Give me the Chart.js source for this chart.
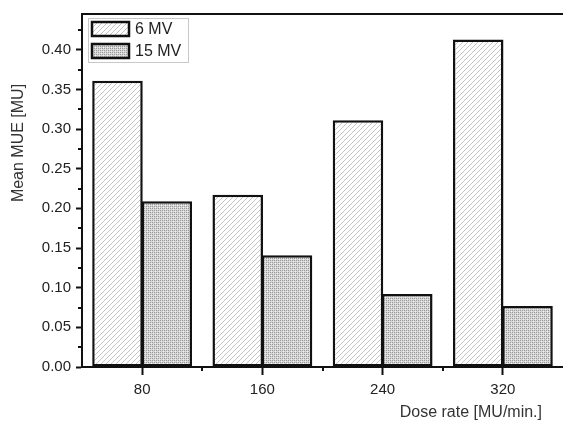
<!DOCTYPE html>
<html>
<head>
<meta charset="utf-8">
<script src="https://cdn.jsdelivr.net/npm/chart.js@4/dist/chart.umd.min.js"></script>
<style>
  html, body { margin: 0; padding: 0; background: #fff; }
  #wrap { width: 563px; height: 421px; }
</style>
</head>
<body>
<div id="wrap"><canvas id="chart" width="563" height="421"></canvas></div>
<script>
// data
const doseRates = ['80', '160', '240', '320'];
const seriesNames = ['6 MV', '15 MV'];
const mue6 = [0.361, 0.217, 0.311, 0.413];
const mue15 = [0.209, 0.141, 0.092, 0.077];
const yTicks = [0, 0.05, 0.10, 0.15, 0.20, 0.25, 0.30, 0.35, 0.40];

const FONT = 'Arial, "Liberation Sans", sans-serif';

// hatch fill for 6 MV
function makeHatch() {
    const c = document.createElement('canvas');
    c.width = 5; c.height = 5;
    const g = c.getContext('2d');
    g.fillStyle = '#fff';
    g.fillRect(0, 0, 5, 5);
    g.strokeStyle = '#bdbdbd';
    g.lineWidth = 0.9;
    g.beginPath();
    g.moveTo(-1, 6); g.lineTo(6, -1);
    g.moveTo(-1, 1); g.lineTo(1, -1);
    g.moveTo(4, 6); g.lineTo(6, 4);
    g.stroke();
    return g.createPattern(c, 'repeat');
}

// fine cross-hatch for 15 MV
function makeCross() {
    const c = document.createElement('canvas');
    c.width = 4; c.height = 4;
    const g = c.getContext('2d');
    g.fillStyle = '#d6d6d6';
    g.fillRect(0, 0, 4, 4);
    g.fillStyle = '#9a9a9a';
    [[0, 0], [2, 2], [0, 2], [2, 0]].forEach(p => g.fillRect(p[0], p[1], 1, 1));
    g.fillStyle = '#f2f2f2';
    [[1, 1], [3, 3]].forEach(p => g.fillRect(p[0], p[1], 1, 1));
    return g.createPattern(c, 'repeat');
}

const fills = [makeHatch(), makeCross()];

// frame, minor ticks, legend and axis titles
const extras = {
    id: 'extras',
    afterDraw(chart) {
        const ctx = chart.ctx;
        const a = chart.chartArea;
        const x = chart.scales.x, y = chart.scales.y;
        ctx.save();
        ctx.strokeStyle = '#111';
        ctx.lineWidth = 2;
        // top frame line
        ctx.beginPath();
        ctx.moveTo(a.left - 1, a.top);
        ctx.lineTo(a.right, a.top);
        ctx.stroke();
        // y minor ticks
        ctx.beginPath();
        for (let i = 0; i < yTicks.length; i++) {
            const v = yTicks[i] + 0.025;
            if (v > y.max) break;
            const py = Math.round(y.getPixelForValue(v));
            ctx.moveTo(a.left - 4, py);
            ctx.lineTo(a.left, py);
        }
        // x minor ticks between categories
        for (let i = 0; i < doseRates.length - 1; i++) {
            const px = Math.round((x.getPixelForValue(i) + x.getPixelForValue(i + 1)) / 2);
            ctx.moveTo(px, a.bottom);
            ctx.lineTo(px, a.bottom + 4);
        }
        ctx.stroke();

        // legend
        const lx = a.left + 6, ly = a.top + 4;
        ctx.lineWidth = 1;
        ctx.strokeStyle = '#c8c8c8';
        ctx.strokeRect(lx + 0.5, ly + 0.5, 100, 44);
        ctx.font = '16px ' + FONT;
        ctx.textBaseline = 'middle';
        ctx.textAlign = 'left';
        chart.data.datasets.forEach((ds, i) => {
            const by = ly + 4 + i * 22;
            ctx.fillStyle = ds.backgroundColor;
            ctx.fillRect(lx + 4, by, 37, 14);
            ctx.lineWidth = 2.5;
            ctx.strokeStyle = '#111';
            ctx.strokeRect(lx + 4, by, 37, 14);
            ctx.fillStyle = '#222';
            ctx.fillText(ds.label, lx + 47, by + 8);
        });

        // axis titles
        ctx.fillStyle = '#333';
        ctx.font = '16px ' + FONT;
        ctx.textAlign = 'right';
        ctx.textBaseline = 'middle';
        ctx.fillText('Dose rate [MU/min.]', 542, 413);
        ctx.translate(19, 143);
        ctx.rotate(-Math.PI / 2);
        ctx.textAlign = 'center';
        ctx.fillText('Mean MUE [MU]', 0, 0);
        ctx.restore();
    }
};

new Chart(document.getElementById('chart'), {
    type: 'bar',
    data: {
        labels: doseRates,
        datasets: [
            { label: seriesNames[0], data: mue6, backgroundColor: fills[0] },
            { label: seriesNames[1], data: mue15, backgroundColor: fills[1] }
        ]
    },
    options: {
        responsive: false,
        animation: false,
        devicePixelRatio: 1,
        layout: { padding: { top: 13, right: 0, left: 0, bottom: 0 } },
        datasets: {
            bar: {
                borderColor: '#111',
                borderWidth: 2.5,
                borderSkipped: false,
                barPercentage: 1.025,
                categoryPercentage: 0.82
            }
        },
        plugins: {
            legend: { display: false },
            tooltip: { enabled: false }
        },
        scales: {
            x: {
                offset: true,
                grid: {
                    offset: false,
                    drawOnChartArea: false,
                    tickLength: 8,
                    tickColor: '#111',
                    tickWidth: 2
                },
                border: { color: '#111', width: 2 },
                ticks: {
                    color: '#222',
                    padding: 6,
                    font: { family: FONT, size: 15 }
                },
                afterFit(s) { s.height = 54; }
            },
            y: {
                min: 0,
                max: 0.445,
                grid: {
                    drawOnChartArea: false,
                    tickLength: 6,
                    tickColor: '#111',
                    tickWidth: 2
                },
                border: { color: '#111', width: 2 },
                ticks: {
                    stepSize: 0.05,
                    color: '#222',
                    padding: 5,
                    font: { family: FONT, size: 15 },
                    callback: v => v.toFixed(2)
                },
                afterBuildTicks(s) {
                    s.ticks = yTicks.map(v => ({ value: v }));
                },
                afterFit(s) { s.width = 82; }
            }
        }
    },
    plugins: [extras]
});
</script>
</body>
</html>
